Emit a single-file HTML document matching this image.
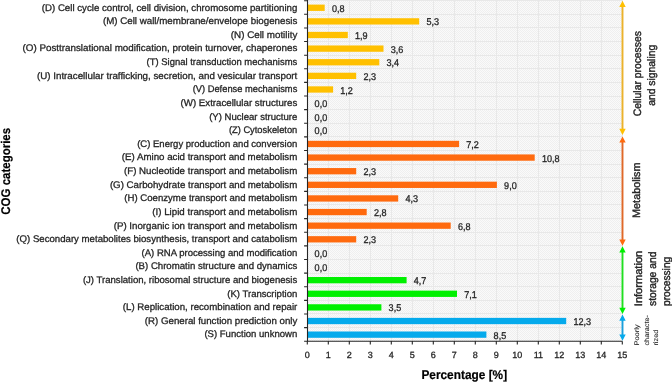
<!DOCTYPE html><html><head><meta charset="utf-8"><style>html,body{margin:0;padding:0;background:#fff;width:672px;height:382px;overflow:hidden}svg{display:block;will-change:transform}text{font-family:"Liberation Sans",sans-serif;fill:#262626;stroke:#262626;stroke-width:0.3px;text-rendering:geometricPrecision}</style></head><body>
<svg width="672" height="382" viewBox="0 0 672 382">
<defs><pattern id="ck" x="0" y="0" width="2" height="2" patternUnits="userSpaceOnUse"><rect width="2" height="2" fill="#fafafa"/><rect width="1" height="1" fill="#efefef"/><rect x="1" y="1" width="1" height="1" fill="#efefef"/></pattern></defs>
<rect x="307.30" y="0" width="315.00" height="341.20" fill="url(#ck)"/>
<path d="M328.5 0V341.20M349.5 0V341.20M370.5 0V341.20M391.5 0V341.20M412.5 0V341.20M433.5 0V341.20M454.5 0V341.20M475.5 0V341.20M496.5 0V341.20M517.5 0V341.20M538.5 0V341.20M559.5 0V341.20M580.5 0V341.20M601.5 0V341.20M622.5 0V341.20M307.30 0.5H622.30M307.30 14.5H622.30M307.30 27.5H622.30M307.30 41.5H622.30M307.30 55.5H622.30M307.30 68.5H622.30M307.30 82.5H622.30M307.30 96.5H622.30M307.30 109.5H622.30M307.30 123.5H622.30M307.30 136.5H622.30M307.30 150.5H622.30M307.30 164.5H622.30M307.30 177.5H622.30M307.30 191.5H622.30M307.30 204.5H622.30M307.30 218.5H622.30M307.30 232.5H622.30M307.30 245.5H622.30M307.30 259.5H622.30M307.30 273.5H622.30M307.30 286.5H622.30M307.30 300.5H622.30M307.30 313.5H622.30M307.30 327.5H622.30" stroke="#e8e8e8" stroke-width="1" fill="none"/>
<rect x="307.30" y="4.61" width="17.40" height="6.3" fill="#ffc000"/>
<rect x="307.30" y="18.23" width="111.90" height="6.3" fill="#ffc000"/>
<rect x="307.30" y="31.85" width="40.50" height="6.3" fill="#ffc000"/>
<rect x="307.30" y="45.47" width="76.20" height="6.3" fill="#ffc000"/>
<rect x="307.30" y="59.09" width="72.00" height="6.3" fill="#ffc000"/>
<rect x="307.30" y="72.71" width="48.90" height="6.3" fill="#ffc000"/>
<rect x="307.30" y="86.33" width="25.80" height="6.3" fill="#ffc000"/>
<rect x="307.30" y="140.81" width="151.80" height="6.3" fill="#ff6a0e"/>
<rect x="307.30" y="154.43" width="227.40" height="6.3" fill="#ff6a0e"/>
<rect x="307.30" y="168.05" width="48.90" height="6.3" fill="#ff6a0e"/>
<rect x="307.30" y="181.67" width="189.60" height="6.3" fill="#ff6a0e"/>
<rect x="307.30" y="195.29" width="90.90" height="6.3" fill="#ff6a0e"/>
<rect x="307.30" y="208.91" width="59.40" height="6.3" fill="#ff6a0e"/>
<rect x="307.30" y="222.53" width="143.40" height="6.3" fill="#ff6a0e"/>
<rect x="307.30" y="236.15" width="48.90" height="6.3" fill="#ff6a0e"/>
<rect x="307.30" y="277.01" width="99.30" height="6.3" fill="#00f000"/>
<rect x="307.30" y="290.63" width="149.70" height="6.3" fill="#00f000"/>
<rect x="307.30" y="304.25" width="74.10" height="6.3" fill="#00f000"/>
<rect x="307.30" y="317.87" width="258.90" height="6.3" fill="#05aaec"/>
<rect x="307.30" y="331.49" width="179.10" height="6.3" fill="#05aaec"/>
<path d="M307.5 0V341.20H622.30M304.10 0.70H307.30M304.10 14.32H307.30M304.10 27.94H307.30M304.10 41.56H307.30M304.10 55.18H307.30M304.10 68.80H307.30M304.10 82.42H307.30M304.10 96.04H307.30M304.10 109.66H307.30M304.10 123.28H307.30M304.10 136.90H307.30M304.10 150.52H307.30M304.10 164.14H307.30M304.10 177.76H307.30M304.10 191.38H307.30M304.10 205.00H307.30M304.10 218.62H307.30M304.10 232.24H307.30M304.10 245.86H307.30M304.10 259.48H307.30M304.10 273.10H307.30M304.10 286.72H307.30M304.10 300.34H307.30M304.10 313.96H307.30M304.10 327.58H307.30M304.10 341.20H307.30M307.30 341.20V344.50M328.30 341.20V344.50M349.30 341.20V344.50M370.30 341.20V344.50M391.30 341.20V344.50M412.30 341.20V344.50M433.30 341.20V344.50M454.30 341.20V344.50M475.30 341.20V344.50M496.30 341.20V344.50M517.30 341.20V344.50M538.30 341.20V344.50M559.30 341.20V344.50M580.30 341.20V344.50M601.30 341.20V344.50M622.30 341.20V344.50" stroke="#262626" stroke-width="1.1" fill="none"/>
<text x="41.75" y="10.61" font-size="9.6" textLength="255.6" lengthAdjust="spacingAndGlyphs">(D) Cell cycle control, cell division, chromosome partitioning</text>
<text x="331.90" y="11.81" font-size="9.8" textLength="12.6" lengthAdjust="spacingAndGlyphs">0,8</text>
<text x="102.95" y="24.23" font-size="9.6" textLength="194.4" lengthAdjust="spacingAndGlyphs">(M) Cell wall/membrane/envelope biogenesis</text>
<text x="426.40" y="25.43" font-size="9.8" textLength="12.6" lengthAdjust="spacingAndGlyphs">5,3</text>
<text x="230.8" y="37.85" font-size="9.6" textLength="66.5" lengthAdjust="spacingAndGlyphs">(N) Cell motility</text>
<text x="355.00" y="39.05" font-size="9.8" textLength="12.6" lengthAdjust="spacingAndGlyphs">1,9</text>
<text x="22.5" y="51.47" font-size="9.6" textLength="274.8" lengthAdjust="spacingAndGlyphs">(O) Posttranslational modification, protein turnover, chaperones</text>
<text x="390.70" y="52.67" font-size="9.8" textLength="12.6" lengthAdjust="spacingAndGlyphs">3,6</text>
<text x="146.6" y="65.09" font-size="9.6" textLength="150.7" lengthAdjust="spacingAndGlyphs">(T) Signal transduction mechanisms</text>
<text x="386.50" y="66.29" font-size="9.8" textLength="12.6" lengthAdjust="spacingAndGlyphs">3,4</text>
<text x="37" y="78.71" font-size="9.6" textLength="260.3" lengthAdjust="spacingAndGlyphs">(U) Intracellular trafficking, secretion, and vesicular transport</text>
<text x="363.40" y="79.91" font-size="9.8" textLength="12.6" lengthAdjust="spacingAndGlyphs">2,3</text>
<text x="192.7" y="92.33" font-size="9.6" textLength="104.6" lengthAdjust="spacingAndGlyphs">(V) Defense mechanisms</text>
<text x="340.30" y="93.53" font-size="9.8" textLength="12.6" lengthAdjust="spacingAndGlyphs">1,2</text>
<text x="180.6" y="105.95" font-size="9.6" textLength="116.7" lengthAdjust="spacingAndGlyphs">(W) Extracellular structures</text>
<text x="314.60" y="107.15" font-size="9.8" textLength="12.6" lengthAdjust="spacingAndGlyphs">0,0</text>
<text x="209.2" y="119.57" font-size="9.6" textLength="88.1" lengthAdjust="spacingAndGlyphs">(Y) Nuclear structure</text>
<text x="314.60" y="120.77" font-size="9.8" textLength="12.6" lengthAdjust="spacingAndGlyphs">0,0</text>
<text x="228.9" y="133.19" font-size="9.6" textLength="68.4" lengthAdjust="spacingAndGlyphs">(Z) Cytoskeleton</text>
<text x="314.60" y="134.39" font-size="9.8" textLength="12.6" lengthAdjust="spacingAndGlyphs">0,0</text>
<text x="137.2" y="146.81" font-size="9.6" textLength="160.1" lengthAdjust="spacingAndGlyphs">(C) Energy production and conversion</text>
<text x="466.30" y="148.01" font-size="9.8" textLength="12.6" lengthAdjust="spacingAndGlyphs">7,2</text>
<text x="121.8" y="160.43" font-size="9.6" textLength="175.5" lengthAdjust="spacingAndGlyphs">(E) Amino acid transport and metabolism</text>
<text x="541.90" y="161.63" font-size="9.8" textLength="17.65" lengthAdjust="spacingAndGlyphs">10,8</text>
<text x="124.0" y="174.05" font-size="9.6" textLength="173.3" lengthAdjust="spacingAndGlyphs">(F) Nucleotide transport and metabolism</text>
<text x="363.40" y="175.25" font-size="9.8" textLength="12.6" lengthAdjust="spacingAndGlyphs">2,3</text>
<text x="109.9" y="187.67" font-size="9.6" textLength="187.4" lengthAdjust="spacingAndGlyphs">(G) Carbohydrate transport and metabolism</text>
<text x="504.10" y="188.87" font-size="9.8" textLength="12.6" lengthAdjust="spacingAndGlyphs">9,0</text>
<text x="124.3" y="201.29" font-size="9.6" textLength="173.0" lengthAdjust="spacingAndGlyphs">(H) Coenzyme transport and metabolism</text>
<text x="405.40" y="202.49" font-size="9.8" textLength="12.6" lengthAdjust="spacingAndGlyphs">4,3</text>
<text x="152.3" y="214.91" font-size="9.6" textLength="145.0" lengthAdjust="spacingAndGlyphs">(I) Lipid transport and metabolism</text>
<text x="373.90" y="216.11" font-size="9.8" textLength="12.6" lengthAdjust="spacingAndGlyphs">2,8</text>
<text x="113.7" y="228.53" font-size="9.6" textLength="183.6" lengthAdjust="spacingAndGlyphs">(P) Inorganic ion transport and metabolism</text>
<text x="457.90" y="229.73" font-size="9.8" textLength="12.6" lengthAdjust="spacingAndGlyphs">6,8</text>
<text x="16.3" y="242.15" font-size="9.6" textLength="281.0" lengthAdjust="spacingAndGlyphs">(Q) Secondary metabolites biosynthesis, transport and catabolism</text>
<text x="363.40" y="243.35" font-size="9.8" textLength="12.6" lengthAdjust="spacingAndGlyphs">2,3</text>
<text x="141.6" y="255.77" font-size="9.6" textLength="155.7" lengthAdjust="spacingAndGlyphs">(A) RNA processing and modification</text>
<text x="314.60" y="256.97" font-size="9.8" textLength="12.6" lengthAdjust="spacingAndGlyphs">0,0</text>
<text x="135.4" y="269.39" font-size="9.6" textLength="161.9" lengthAdjust="spacingAndGlyphs">(B) Chromatin structure and dynamics</text>
<text x="314.60" y="270.59" font-size="9.8" textLength="12.6" lengthAdjust="spacingAndGlyphs">0,0</text>
<text x="82.9" y="283.01" font-size="9.6" textLength="214.4" lengthAdjust="spacingAndGlyphs">(J) Translation, ribosomal structure and biogenesis</text>
<text x="413.80" y="284.21" font-size="9.8" textLength="12.6" lengthAdjust="spacingAndGlyphs">4,7</text>
<text x="227.3" y="296.63" font-size="9.6" textLength="70.0" lengthAdjust="spacingAndGlyphs">(K) Transcription</text>
<text x="464.20" y="297.83" font-size="9.8" textLength="12.6" lengthAdjust="spacingAndGlyphs">7,1</text>
<text x="122.8" y="310.25" font-size="9.6" textLength="174.5" lengthAdjust="spacingAndGlyphs">(L) Replication, recombination and repair</text>
<text x="388.60" y="311.45" font-size="9.8" textLength="12.6" lengthAdjust="spacingAndGlyphs">3,5</text>
<text x="144.8" y="323.87" font-size="9.6" textLength="152.5" lengthAdjust="spacingAndGlyphs">(R) General function prediction only</text>
<text x="573.40" y="325.07" font-size="9.8" textLength="17.65" lengthAdjust="spacingAndGlyphs">12,3</text>
<text x="204.4" y="337.49" font-size="9.6" textLength="92.9" lengthAdjust="spacingAndGlyphs">(S) Function unknown</text>
<text x="493.60" y="338.69" font-size="9.8" textLength="12.6" lengthAdjust="spacingAndGlyphs">8,5</text>
<text x="307.30" y="357.9" font-size="9" text-anchor="middle">0</text>
<text x="328.30" y="357.9" font-size="9" text-anchor="middle">1</text>
<text x="349.30" y="357.9" font-size="9" text-anchor="middle">2</text>
<text x="370.30" y="357.9" font-size="9" text-anchor="middle">3</text>
<text x="391.30" y="357.9" font-size="9" text-anchor="middle">4</text>
<text x="412.30" y="357.9" font-size="9" text-anchor="middle">5</text>
<text x="433.30" y="357.9" font-size="9" text-anchor="middle">6</text>
<text x="454.30" y="357.9" font-size="9" text-anchor="middle">7</text>
<text x="475.30" y="357.9" font-size="9" text-anchor="middle">8</text>
<text x="496.30" y="357.9" font-size="9" text-anchor="middle">9</text>
<text x="517.30" y="357.9" font-size="9" text-anchor="middle">10</text>
<text x="538.30" y="357.9" font-size="9" text-anchor="middle">11</text>
<text x="559.30" y="357.9" font-size="9" text-anchor="middle">12</text>
<text x="580.30" y="357.9" font-size="9" text-anchor="middle">13</text>
<text x="601.30" y="357.9" font-size="9" text-anchor="middle">14</text>
<text x="622.30" y="357.9" font-size="9" text-anchor="middle">15</text>
<text x="421.4" y="378.6" font-size="12.6" font-weight="bold" style="fill:#000;stroke:#000;stroke-width:0.2px" textLength="85.7" lengthAdjust="spacingAndGlyphs">Percentage [%]</text>
<text transform="translate(9.7,214.7) rotate(-90)" font-size="12.6" font-weight="bold" style="fill:#000;stroke:#000;stroke-width:0.2px" textLength="86.8" lengthAdjust="spacingAndGlyphs">COG categories</text>
<path d="M622.5 6.0V129.8" stroke="#ebb22a" stroke-width="1.9" fill="none"/><path d="M622.5 0.8L625.7 7.0H619.3Z M622.5 135.0L625.7 128.8H619.3Z" fill="#ffc000"/>
<path d="M622.5 141.6V240.5" stroke="#e06828" stroke-width="1.9" fill="none"/><path d="M622.5 136.4L625.7 142.6H619.3Z M622.5 245.7L625.7 239.5H619.3Z" fill="#ff6a0e"/>
<path d="M622.5 251.5V308.8" stroke="#20e020" stroke-width="1.9" fill="none"/><path d="M622.5 246.3L625.7 252.5H619.3Z M622.5 314.0L625.7 307.8H619.3Z" fill="#00f000"/>
<path d="M622.5 319.8V335.5" stroke="#1a9fdc" stroke-width="1.9" fill="none"/><path d="M622.5 314.6L625.7 320.8H619.3Z M622.5 340.7L625.7 334.5H619.3Z" fill="#05aaec"/>
<text transform="translate(640.8,116.2) rotate(-90)" font-size="10.8" style="stroke-width:0.4px" textLength="85.0" lengthAdjust="spacingAndGlyphs">Cellular processes</text>
<text transform="translate(654.9,105.8) rotate(-90)" font-size="10.8" style="stroke-width:0.4px" textLength="61.0" lengthAdjust="spacingAndGlyphs">and signaling</text>
<text transform="translate(640.4,217.9) rotate(-90)" font-size="10.8" style="stroke-width:0.4px" textLength="55.3" lengthAdjust="spacingAndGlyphs">Metabolism</text>
<text transform="translate(641.7,306.2) rotate(-90)" font-size="10.8" style="stroke-width:0.4px" textLength="55.4" lengthAdjust="spacingAndGlyphs">Information</text>
<text transform="translate(656.2,306.0) rotate(-90)" font-size="10.8" style="stroke-width:0.4px" textLength="54.4" lengthAdjust="spacingAndGlyphs">storage and</text>
<text transform="translate(670.0,306.0) rotate(-90)" font-size="10.8" style="stroke-width:0.4px" textLength="49.2" lengthAdjust="spacingAndGlyphs">processing</text>
<text transform="translate(638.5,345.6) rotate(-90)" font-size="6.6" style="stroke-width:0.1px" textLength="21.2" lengthAdjust="spacingAndGlyphs">Poorly</text>
<text transform="translate(648.6,345.6) rotate(-90)" font-size="6.6" style="stroke-width:0.1px" textLength="30.6" lengthAdjust="spacingAndGlyphs">characte-</text>
<text transform="translate(658.2,345.6) rotate(-90)" font-size="6.6" style="stroke-width:0.1px" textLength="15.9" lengthAdjust="spacingAndGlyphs">rized</text>
</svg></body></html>
